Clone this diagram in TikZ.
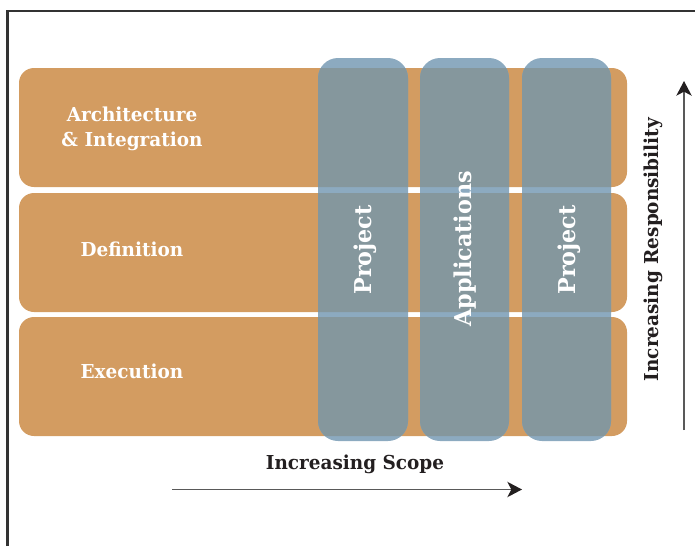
\documentclass[tikz,border=0pt]{standalone}
\usepackage{fontspec}
\setmainfont{DejaVu Serif}
\newfontfamily\slab[FakeStretch=0.96]{DejaVu Serif}
\usetikzlibrary{arrows.meta}
\definecolor{rowor}{HTML}{D39C61}
\definecolor{colblue}{HTML}{8CAAC0}
\definecolor{overlap}{HTML}{85979D}
\definecolor{inkdark}{HTML}{231F20}
\definecolor{framegray}{HTML}{333333}
\tikzset{
  rowfill/.style={fill=rowor, rounded corners=11.25pt},
  colfill/.style={fill=colblue, rounded corners=15pt},
  rowlabel/.style={text=white, font=\slab\bfseries\fontsize{14.4}{18.75}\selectfont, align=center, inner sep=0pt, anchor=base},
  collabel/.style={text=white, font=\slab\bfseries\fontsize{17.4}{20}\selectfont, rotate=90, inner sep=0pt, anchor=base},
  axislabel/.style={text=inkdark, font=\slab\bfseries\fontsize{14.4}{18}\selectfont, inner sep=0pt, anchor=base},
  axisarrow/.style={draw=black!65, line width=1.1pt, -{Stealth[length=11pt,width=11.5pt,inset=3pt,color=inkdark,fill=inkdark]}},
}
\newcommand{\rowshapes}{
  (19,68) rectangle (627,187)
  (19,193) rectangle (627,312)
  (19,317) rectangle (627,436)
}
\newcommand{\colshapes}{
  (318,58) rectangle (408,441)
  (420,58) rectangle (509,441)
  (522,58) rectangle (611,441)
}
\begin{document}
\begin{tikzpicture}[x=0.75pt,y=-0.75pt]
\useasboundingbox (0,0) rectangle (695,546);
% frame
\draw[framegray, line width=1.6pt] (7.5,546) -- (7.5,11) -- (695,11);
% rows
\path[rowfill] \rowshapes;
% columns
\path[colfill] \colshapes;
% overlap of columns and rows
\begin{scope}
  \clip[rounded corners=15pt] \colshapes;
  \path[fill=overlap, rounded corners=11.25pt] \rowshapes;
\end{scope}
% row labels
\node[rowlabel] (arch) at (132,146.7) {Architecture\\\& Integration};
\node[rowlabel] (def) at (132,256) {Definition};
\node[rowlabel] (exe) at (132,378.3) {Execution};
% column labels
\node[collabel] (p1) at (371.7,250) {Project};
\node[collabel] (app) at (471.7,249) {Applications};
\node[collabel] (p2) at (575,250) {Project};
% axes
\node[axislabel] (scope) at (355,469) {Increasing Scope};
\node[axislabel, rotate=90] (resp) at (658,249.5) {Increasing Responsibility};
\coordinate (hs) at (172,489.5);
\coordinate (he) at (522,489.5);
\coordinate (vs) at (684,430);
\coordinate (ve) at (684,81);
\draw[axisarrow] (hs) -- (he);
\draw[axisarrow] (vs) -- (ve);
\end{tikzpicture}
\end{document}
